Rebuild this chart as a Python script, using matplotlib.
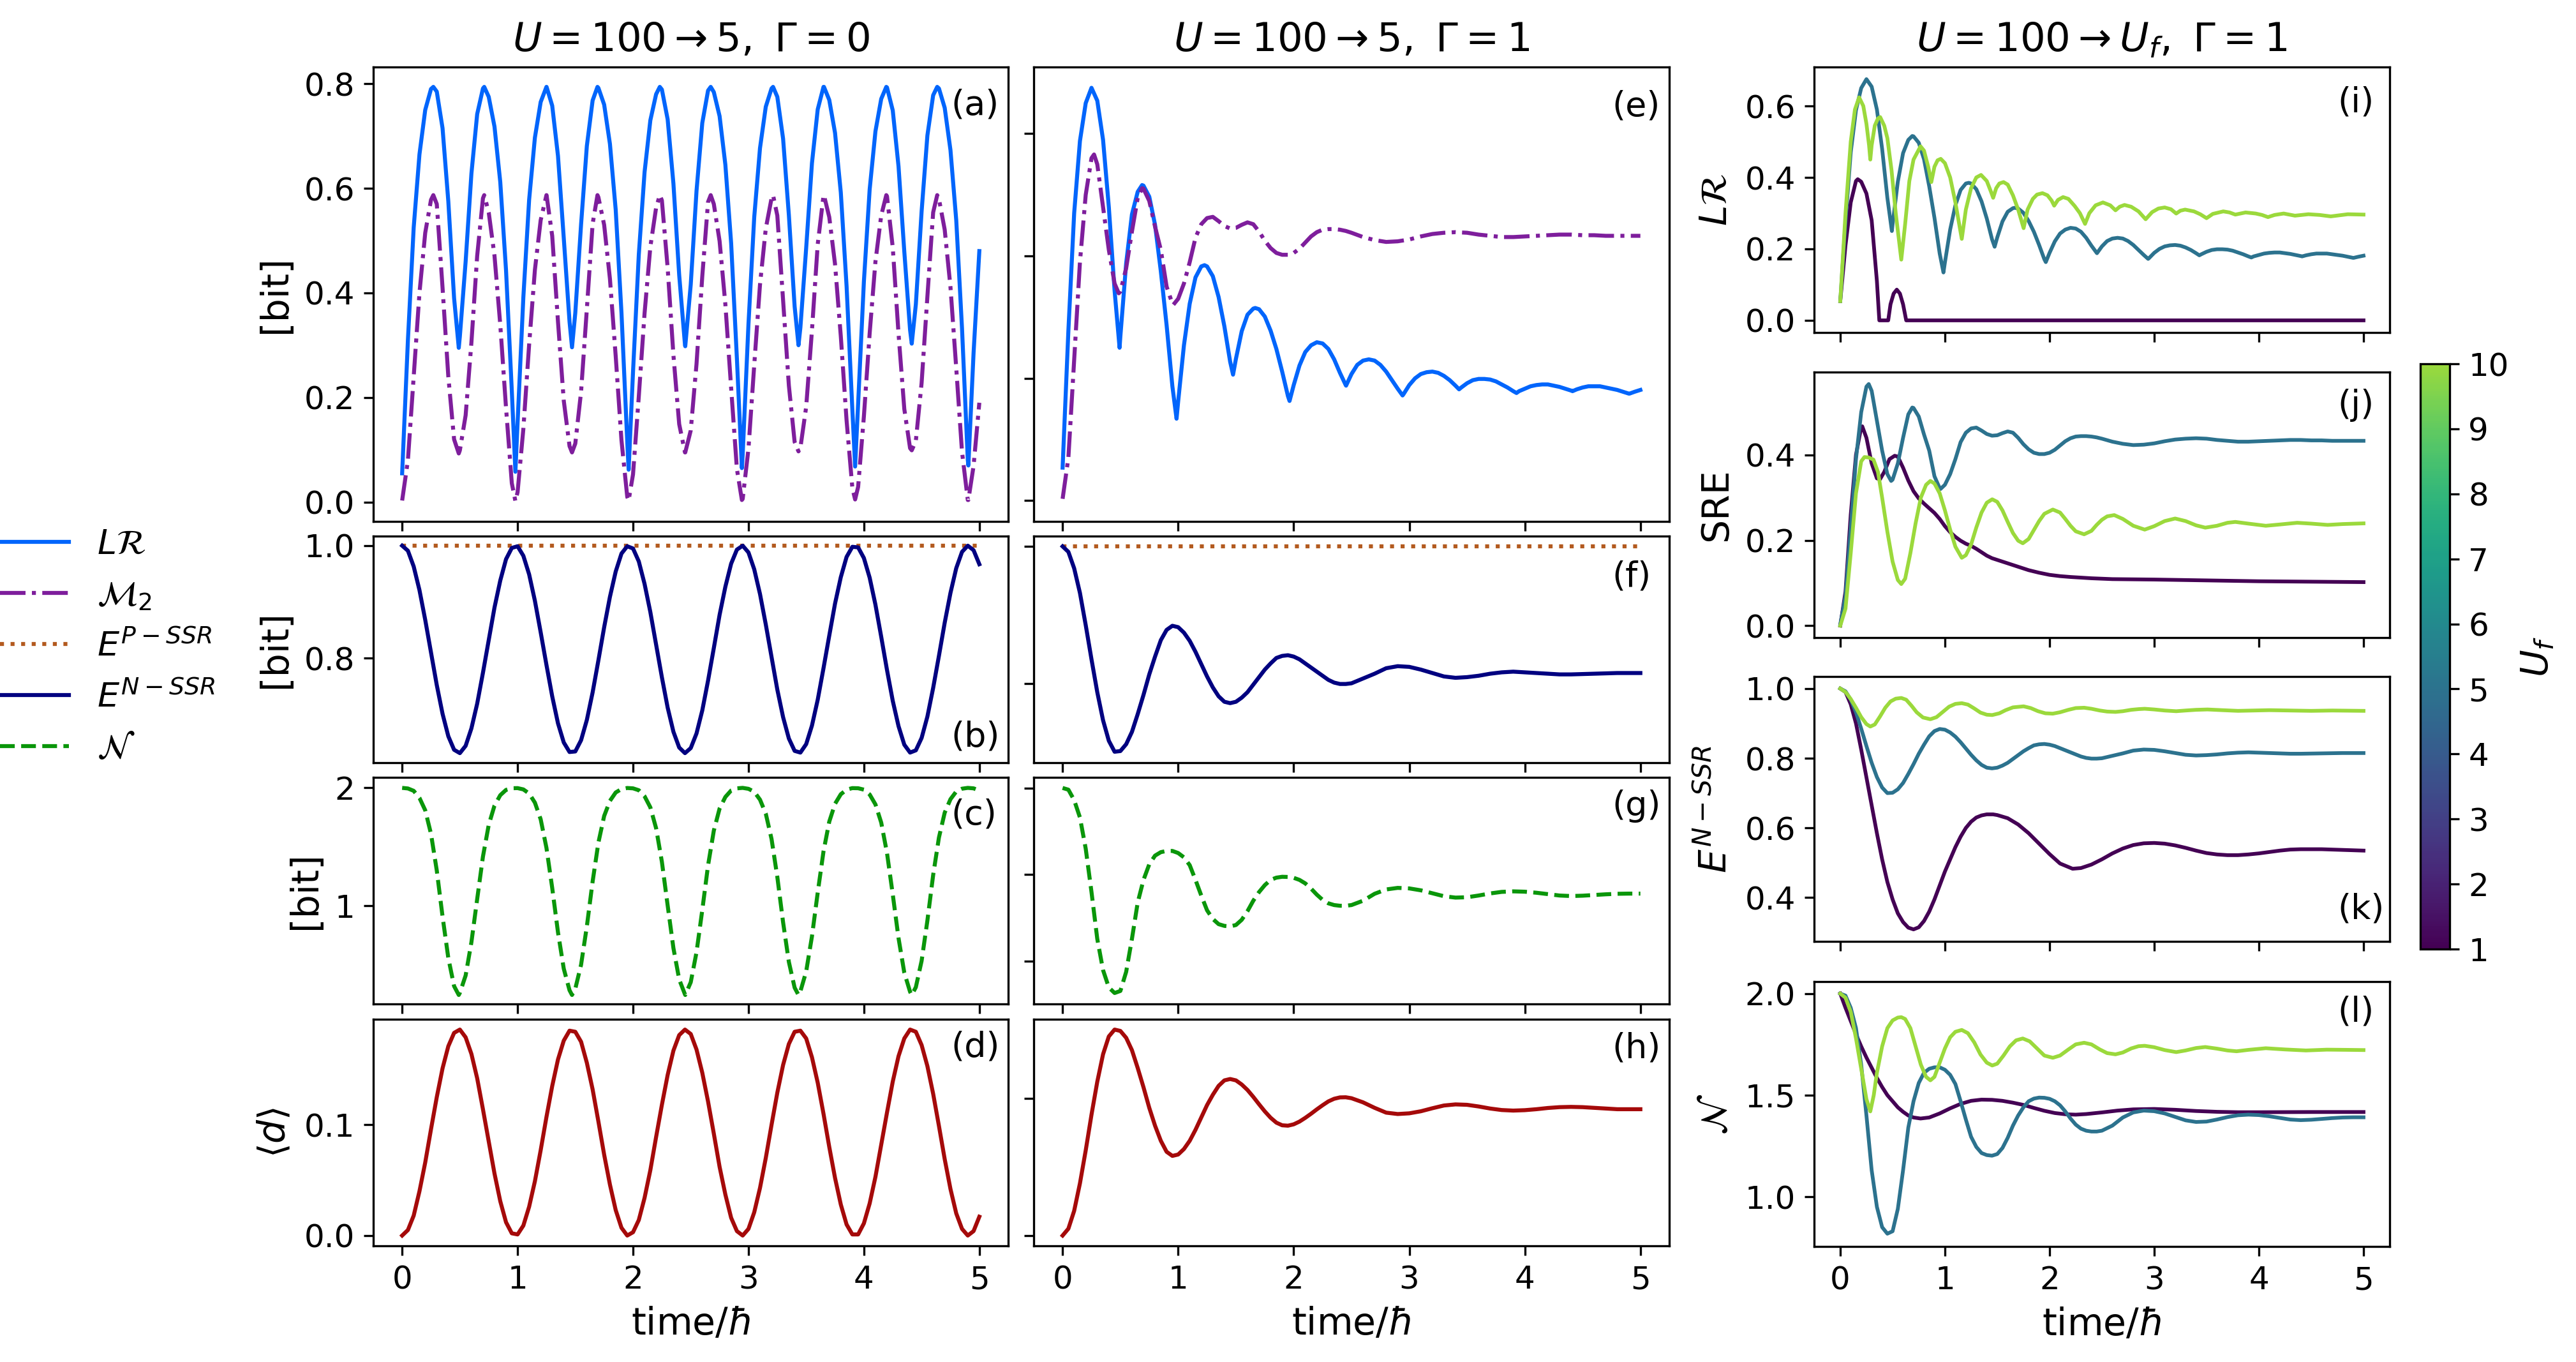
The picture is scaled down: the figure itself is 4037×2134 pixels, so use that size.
import numpy as np
import matplotlib
matplotlib.use('Agg')
import matplotlib.pyplot as plt
from matplotlib.colors import ListedColormap, Normalize
from matplotlib.cm import ScalarMappable

plt.rcParams['font.family'] = ['DejaVu Sans']
plt.rcParams['mathtext.fontset'] = 'dejavusans'

W, H, DPI = 4037, 2134, 300

# ---------------- sampling grids ----------------
time_fine = np.round(np.arange(0, 101) * 0.05, 3)                     # 0 .. 5 step 0.05
time_mid = np.concatenate([np.round(np.arange(0, 50) * 0.05, 3),
                           np.round(2.5 + np.arange(0, 26) * 0.1, 3)])  # 0..2.45 by 0.05, 2.5..5 by 0.1

# ---------------- column 1 : U=100->5, Gamma=0 ----------------
lr_g0 = [0.055, 0.31, 0.525, 0.665, 0.75, 0.79, 0.785, 0.715, 0.575, 0.39,
         0.317, 0.460, 0.628, 0.742, 0.791, 0.775, 0.718, 0.612, 0.443, 0.213,
         0.152, 0.392, 0.578, 0.697, 0.765, 0.794, 0.758, 0.662, 0.505, 0.345,
         0.362, 0.531, 0.681, 0.768, 0.792, 0.760, 0.685, 0.559, 0.362, 0.116,
         0.249, 0.473, 0.631, 0.730, 0.780, 0.789, 0.732, 0.609, 0.434, 0.301,
         0.416, 0.595, 0.725, 0.787, 0.784, 0.738, 0.645, 0.495, 0.274, 0.091,
         0.340, 0.545, 0.677, 0.756, 0.791, 0.775, 0.695, 0.549, 0.374, 0.334,
         0.486, 0.648, 0.751, 0.794, 0.769, 0.706, 0.592, 0.413, 0.177, 0.188,
         0.422, 0.598, 0.709, 0.771, 0.793, 0.749, 0.642, 0.479, 0.329, 0.378,
         0.556, 0.701, 0.778, 0.791, 0.754, 0.673, 0.539, 0.332, 0.081, 0.285,
         0.48]
lr_g0_extrema = [(0.27, 0.794), (0.4905, 0.295), (0.711, 0.794), (0.981, 0.058),
                 (1.251, 0.794), (1.4715, 0.296), (1.692, 0.794), (1.962, 0.062),
                 (2.232, 0.794), (2.4525, 0.298), (2.673, 0.794), (2.943, 0.065),
                 (3.213, 0.794), (3.4335, 0.300), (3.654, 0.794), (3.924, 0.068),
                 (4.194, 0.794), (4.4145, 0.303), (4.635, 0.794), (4.905, 0.070)]
m2_g0 = [0.003, 0.080, 0.240, 0.400, 0.515, 0.578, 0.570, 0.410, 0.240, 0.120,
         0.099, 0.166, 0.305, 0.471, 0.581, 0.554, 0.471, 0.339, 0.180, 0.036,
         0.019, 0.140, 0.301, 0.444, 0.539, 0.587, 0.509, 0.345, 0.194, 0.107,
         0.112, 0.211, 0.369, 0.532, 0.583, 0.530, 0.427, 0.279, 0.118, 0.010,
         0.053, 0.202, 0.361, 0.488, 0.563, 0.577, 0.448, 0.281, 0.149, 0.095,
         0.137, 0.264, 0.432, 0.574, 0.570, 0.499, 0.378, 0.218, 0.063, 0.006,
         0.102, 0.262, 0.416, 0.523, 0.581, 0.548, 0.386, 0.223, 0.115, 0.104,
         0.182, 0.328, 0.493, 0.586, 0.545, 0.455, 0.317, 0.156, 0.027, 0.029,
         0.164, 0.323, 0.460, 0.548, 0.585, 0.487, 0.322, 0.178, 0.103, 0.117,
         0.228, 0.393, 0.554, 0.580, 0.521, 0.411, 0.256, 0.096, 0.004, 0.069,
         0.19]
m2_g0_extrema = [(0.27, 0.587), (0.4905, 0.093), (0.711, 0.587), (0.981, 0.002),
                 (1.251, 0.587), (1.4715, 0.095), (1.692, 0.587), (1.962, 0.003),
                 (2.232, 0.587), (2.4525, 0.095), (2.673, 0.587), (2.943, 0.004),
                 (3.213, 0.587), (3.4335, 0.097), (3.654, 0.587), (3.924, 0.005),
                 (4.194, 0.587), (4.4145, 0.099), (4.635, 0.587), (4.905, 0.004)]
ep_time = [0.0, 5.0]
ep_vals = [1.0, 1.0]
en_g0 = [1.000, 0.991, 0.963, 0.921, 0.868, 0.810, 0.752, 0.701, 0.661, 0.637,
         0.631, 0.644, 0.675, 0.719, 0.774, 0.832, 0.890, 0.938, 0.976, 0.996,
         0.999, 0.982, 0.949, 0.902, 0.846, 0.788, 0.732, 0.684, 0.650, 0.633,
         0.634, 0.654, 0.690, 0.739, 0.796, 0.855, 0.909, 0.954, 0.986, 0.999,
         0.995, 0.972, 0.932, 0.882, 0.824, 0.766, 0.712, 0.669, 0.641, 0.631,
         0.640, 0.666, 0.707, 0.760, 0.818, 0.877, 0.927, 0.968, 0.993, 1.000,
         0.988, 0.958, 0.914, 0.860, 0.802, 0.744, 0.695, 0.657, 0.635, 0.632,
         0.647, 0.680, 0.726, 0.782, 0.840, 0.897, 0.944, 0.980, 0.998, 0.997,
         0.978, 0.943, 0.895, 0.838, 0.779, 0.724, 0.679, 0.646, 0.632, 0.636,
         0.658, 0.696, 0.747, 0.804, 0.863, 0.916, 0.960, 0.989, 1.000, 0.992,
         0.967]
nn_g0 = [2.000, 1.995, 1.975, 1.915, 1.810, 1.610, 1.300, 0.910, 0.558, 0.320,
         0.263, 0.410, 0.692, 1.058, 1.418, 1.686, 1.850, 1.938, 1.983, 1.997,
         1.998, 1.987, 1.952, 1.875, 1.734, 1.492, 1.152, 0.776, 0.468, 0.285,
         0.298, 0.501, 0.826, 1.206, 1.536, 1.762, 1.890, 1.961, 1.990, 1.999,
         1.996, 1.980, 1.929, 1.835, 1.658, 1.374, 1.004, 0.642, 0.377, 0.250,
         0.353, 0.607, 0.965, 1.343, 1.638, 1.825, 1.923, 1.978, 1.996, 2.000,
         1.992, 1.967, 1.900, 1.782, 1.567, 1.245, 0.861, 0.525, 0.307, 0.276,
         0.444, 0.741, 1.113, 1.461, 1.714, 1.865, 1.946, 1.985, 1.998, 1.997,
         1.985, 1.944, 1.860, 1.706, 1.449, 1.097, 0.727, 0.434, 0.272, 0.311,
         0.534, 0.875, 1.261, 1.579, 1.790, 1.904, 1.969, 1.993, 2.000, 1.996,
         1.977]
nn_g0_minima = [(0.4905, 0.245), (1.4715, 0.245), (2.4525, 0.245), (3.4335, 0.245), (4.4145, 0.245)]
dd_g0 = [0.000, 0.005, 0.018, 0.040, 0.066, 0.096, 0.125, 0.151, 0.171, 0.183,
         0.186, 0.179, 0.164, 0.142, 0.114, 0.085, 0.056, 0.031, 0.012, 0.002,
         0.001, 0.009, 0.026, 0.049, 0.077, 0.107, 0.135, 0.159, 0.176, 0.185,
         0.184, 0.175, 0.156, 0.132, 0.103, 0.073, 0.046, 0.023, 0.007, 0.000,
         0.003, 0.014, 0.034, 0.059, 0.089, 0.118, 0.145, 0.167, 0.181, 0.186,
         0.182, 0.168, 0.147, 0.121, 0.092, 0.062, 0.037, 0.016, 0.004, 0.000,
         0.006, 0.021, 0.043, 0.070, 0.100, 0.129, 0.154, 0.173, 0.184, 0.185,
         0.178, 0.161, 0.138, 0.110, 0.080, 0.052, 0.028, 0.010, 0.001, 0.001,
         0.011, 0.029, 0.053, 0.082, 0.111, 0.139, 0.162, 0.178, 0.186, 0.184,
         0.172, 0.153, 0.128, 0.099, 0.069, 0.042, 0.020, 0.006, 0.000, 0.004,
         0.017]

# ---------------- column 2 : U=100->5, Gamma=1 (also U_f=5 in column 3) ----------------
lr_g1 = [0.054, 0.278, 0.47, 0.588, 0.65, 0.675, 0.654, 0.59, 0.48, 0.343,
         0.269, 0.388, 0.468, 0.505, 0.515, 0.497, 0.451, 0.375, 0.287, 0.187,
         0.162, 0.254, 0.322, 0.365, 0.383, 0.383, 0.367, 0.333, 0.285, 0.227,
         0.232, 0.277, 0.304, 0.314, 0.313, 0.301, 0.278, 0.248, 0.211, 0.171,
         0.189, 0.221, 0.243, 0.254, 0.259, 0.257, 0.248, 0.231, 0.209, 0.189,
         0.207, 0.222, 0.229, 0.231, 0.229, 0.222, 0.211, 0.197, 0.183, 0.174,
         0.189, 0.200, 0.207, 0.210, 0.211, 0.209, 0.204, 0.197, 0.188, 0.185,
         0.192, 0.197, 0.199, 0.199, 0.198, 0.195, 0.190, 0.185, 0.179, 0.179,
         0.183, 0.187, 0.189, 0.190, 0.190, 0.188, 0.186, 0.183, 0.180, 0.182,
         0.185, 0.187, 0.187, 0.187, 0.185, 0.183, 0.181, 0.178, 0.175, 0.178,
         0.181]
lr_g1_extrema = [(0.493, 0.250), (0.688, 0.516), (0.986, 0.134), (1.228, 0.385), (1.475, 0.206),
                 (1.667, 0.315), (1.964, 0.163), (2.453, 0.188), (2.942, 0.172), (3.431, 0.182),
                 (3.928, 0.176), (4.413, 0.179), (4.906, 0.175)]
m2_g1 = [0.003, 0.07, 0.23, 0.39, 0.50, 0.56, 0.55, 0.48, 0.41, 0.355,
         0.342, 0.38, 0.44, 0.495, 0.51, 0.49, 0.448, 0.41, 0.35, 0.322,
         0.33, 0.355, 0.39, 0.43, 0.452, 0.462, 0.464, 0.457, 0.449, 0.445,
         0.446, 0.451, 0.455, 0.452, 0.44, 0.425, 0.413, 0.405, 0.402, 0.402,
         0.405, 0.412, 0.422, 0.432, 0.439, 0.443, 0.444, 0.444, 0.443, 0.441,
         0.438, 0.431, 0.426, 0.423, 0.424, 0.427, 0.432, 0.436, 0.438, 0.439,
         0.438, 0.435, 0.433, 0.431, 0.431, 0.432, 0.433, 0.434, 0.435, 0.435,
         0.434, 0.434, 0.433, 0.433, 0.433, 0.433]
m2_g1_extrema = [(0.272, 0.566), (0.486, 0.339), (0.688, 0.511), (0.957, 0.320)]
en_g1 = [1.0, 0.992, 0.968, 0.932, 0.885, 0.835, 0.787, 0.746, 0.716, 0.700,
         0.701, 0.711, 0.729, 0.755, 0.783, 0.813, 0.839, 0.863, 0.878, 0.884,
         0.882, 0.874, 0.862, 0.846, 0.828, 0.810, 0.794, 0.781, 0.773, 0.771,
         0.773, 0.779, 0.787, 0.798, 0.809, 0.820, 0.829, 0.837, 0.840, 0.841,
         0.839, 0.835, 0.829, 0.823, 0.817, 0.811, 0.805, 0.801, 0.799, 0.799,
         0.800, 0.807, 0.814, 0.822, 0.825, 0.824, 0.820, 0.815, 0.810, 0.808,
         0.809, 0.811, 0.814, 0.816, 0.817, 0.816, 0.815, 0.814, 0.813, 0.813,
         0.8135, 0.814, 0.8145, 0.815, 0.815, 0.815]
nn_g1 = [2.0, 1.99, 1.93, 1.83, 1.65, 1.40, 1.13, 0.95, 0.85, 0.818,
         0.83, 0.94, 1.13, 1.34, 1.47, 1.56, 1.61, 1.63, 1.637, 1.637,
         1.625, 1.60, 1.555, 1.47, 1.38, 1.295, 1.245, 1.215, 1.205, 1.202,
         1.21, 1.24, 1.29, 1.35, 1.40, 1.44, 1.47, 1.483, 1.488, 1.487,
         1.482, 1.47, 1.45, 1.42, 1.385, 1.355, 1.335, 1.325, 1.321, 1.321,
         1.325, 1.35, 1.39, 1.415, 1.424, 1.421, 1.41, 1.393, 1.376, 1.368,
         1.370, 1.38, 1.392, 1.401, 1.404, 1.402, 1.396, 1.388, 1.38, 1.377,
         1.379, 1.383, 1.387, 1.39, 1.391, 1.391]
dd_g1 = [0.0, 0.005, 0.018, 0.038, 0.062, 0.088, 0.112, 0.132, 0.145, 0.150,
         0.149, 0.144, 0.135, 0.122, 0.108, 0.093, 0.080, 0.069, 0.061, 0.058,
         0.059, 0.063, 0.069, 0.077, 0.086, 0.095, 0.1025, 0.109, 0.113, 0.114,
         0.113, 0.110, 0.106, 0.101, 0.0956, 0.0904, 0.0858, 0.0822, 0.0803, 0.080,
         0.081, 0.083, 0.0857, 0.0887, 0.0919, 0.0949, 0.0977, 0.0996, 0.1006, 0.1007,
         0.100, 0.097, 0.093, 0.0895, 0.0885, 0.089, 0.0905, 0.0927, 0.0947, 0.0955,
         0.0952, 0.094, 0.0925, 0.0914, 0.091, 0.0913, 0.092, 0.0929, 0.0935, 0.0937,
         0.0935, 0.093, 0.0925, 0.092, 0.092, 0.092]

# ---------------- column 3 : U=100->U_f, Gamma=1 ----------------
uf_values = [1, 5, 10]
lr_uf1 = [(0, 0.054), (0.05, 0.21), (0.10, 0.33), (0.15, 0.39), (0.167, 0.395), (0.20, 0.388),
          (0.25, 0.355), (0.30, 0.28), (0.35, 0.11), (0.373, 0.0), (0.458, 0.0), (0.48, 0.045),
          (0.51, 0.075), (0.54, 0.086), (0.57, 0.075), (0.60, 0.045), (0.63, 0.0), (5.0, 0.0)]
lr_uf10 = [(0, 0.054), (0.05, 0.30), (0.10, 0.50), (0.14, 0.59), (0.18, 0.624), (0.22, 0.60),
           (0.25, 0.55), (0.275, 0.49), (0.287, 0.45), (0.30, 0.49), (0.33, 0.545), (0.36, 0.565),
           (0.381, 0.569), (0.42, 0.545), (0.45, 0.51), (0.49, 0.42), (0.53, 0.30), (0.583, 0.17),
           (0.62, 0.27), (0.66, 0.39), (0.70, 0.45), (0.767, 0.487), (0.80, 0.475), (0.84, 0.43),
           (0.87, 0.387), (0.90, 0.43), (0.93, 0.448), (0.96, 0.452), (1.00, 0.44), (1.05, 0.40),
           (1.10, 0.33), (1.161, 0.228), (1.20, 0.31), (1.25, 0.37), (1.30, 0.40), (1.345, 0.407),
           (1.40, 0.39), (1.44, 0.36), (1.461, 0.343), (1.49, 0.37), (1.52, 0.383), (1.56, 0.387),
           (1.60, 0.38), (1.65, 0.35), (1.70, 0.31), (1.752, 0.258), (1.79, 0.31), (1.84, 0.34),
           (1.88, 0.352), (1.932, 0.356), (1.98, 0.35), (2.02, 0.335), (2.044, 0.321), (2.08, 0.337),
           (2.129, 0.345), (2.18, 0.34), (2.24, 0.32), (2.29, 0.30), (2.339, 0.270), (2.38, 0.30),
           (2.44, 0.322), (2.51, 0.330), (2.58, 0.322), (2.63, 0.308), (2.67, 0.318), (2.716, 0.323),
           (2.78, 0.318), (2.85, 0.305), (2.918, 0.283), (2.98, 0.303), (3.04, 0.313), (3.10, 0.316),
           (3.16, 0.311), (3.21, 0.299), (3.25, 0.307), (3.295, 0.310), (3.38, 0.305), (3.44, 0.297),
           (3.50, 0.286), (3.56, 0.298), (3.66, 0.305), (3.72, 0.302), (3.775, 0.296), (3.873, 0.302),
           (3.97, 0.299), (4.03, 0.295), (4.087, 0.289), (4.15, 0.295), (4.237, 0.299), (4.345, 0.293),
           (4.473, 0.297), (4.58, 0.295), (4.687, 0.291), (4.85, 0.297), (5.0, 0.296)]
sre_uf1 = [(0, 0.0), (0.05, 0.08), (0.10, 0.26), (0.15, 0.40), (0.20, 0.465), (0.21, 0.467),
           (0.25, 0.44), (0.30, 0.38), (0.35, 0.345), (0.38, 0.343), (0.42, 0.36), (0.47, 0.39),
           (0.52, 0.398), (0.55, 0.396), (0.60, 0.37), (0.65, 0.34), (0.70, 0.315), (0.75, 0.298),
           (0.80, 0.286), (0.85, 0.275), (0.90, 0.264), (0.95, 0.25), (1.00, 0.233), (1.05, 0.219),
           (1.10, 0.208), (1.15, 0.199), (1.20, 0.192), (1.25, 0.187), (1.30, 0.18), (1.35, 0.172),
           (1.40, 0.164), (1.45, 0.158), (1.50, 0.154), (1.60, 0.146), (1.70, 0.138), (1.80, 0.13),
           (1.90, 0.124), (2.00, 0.119), (2.10, 0.116), (2.20, 0.114), (2.40, 0.111), (2.60, 0.109),
           (3.00, 0.108), (3.50, 0.106), (4.00, 0.104), (4.50, 0.103), (5.00, 0.102)]
sre_uf10 = [(0, 0.0), (0.05, 0.04), (0.10, 0.17), (0.15, 0.31), (0.20, 0.385), (0.231, 0.395),
            (0.27, 0.394), (0.317, 0.389), (0.36, 0.36), (0.40, 0.30), (0.45, 0.22), (0.50, 0.15),
            (0.55, 0.107), (0.583, 0.0975), (0.62, 0.11), (0.67, 0.17), (0.72, 0.24), (0.77, 0.30),
            (0.82, 0.33), (0.861, 0.339), (0.90, 0.333), (0.95, 0.31), (1.00, 0.27), (1.05, 0.225),
            (1.10, 0.185), (1.161, 0.159), (1.20, 0.165), (1.25, 0.19), (1.30, 0.23), (1.35, 0.265),
            (1.40, 0.288), (1.452, 0.296), (1.50, 0.29), (1.55, 0.27), (1.60, 0.243), (1.65, 0.217),
            (1.70, 0.199), (1.744, 0.193), (1.80, 0.203), (1.85, 0.224), (1.90, 0.245), (1.95, 0.262),
            (2.031, 0.272), (2.10, 0.265), (2.15, 0.25), (2.20, 0.234), (2.25, 0.221), (2.33, 0.214),
            (2.40, 0.222), (2.45, 0.236), (2.50, 0.248), (2.55, 0.256), (2.618, 0.259), (2.70, 0.25),
            (2.80, 0.234), (2.909, 0.225), (3.00, 0.233), (3.10, 0.245), (3.20, 0.251), (3.30, 0.245),
            (3.40, 0.235), (3.488, 0.2296), (3.60, 0.234), (3.70, 0.241), (3.775, 0.243), (3.90, 0.239),
            (4.066, 0.234), (4.20, 0.237), (4.366, 0.241), (4.50, 0.239), (4.657, 0.236), (4.80, 0.238),
            (5.00, 0.2396)]
en_uf1 = [(0, 1.0), (0.05, 0.99), (0.10, 0.955), (0.15, 0.90), (0.20, 0.825), (0.25, 0.745),
          (0.30, 0.665), (0.35, 0.585), (0.40, 0.51), (0.45, 0.445), (0.50, 0.395), (0.55, 0.355),
          (0.60, 0.33), (0.65, 0.314), (0.70, 0.309), (0.75, 0.315), (0.80, 0.333), (0.85, 0.36),
          (0.90, 0.395), (0.95, 0.435), (1.00, 0.475), (1.05, 0.51), (1.10, 0.545), (1.15, 0.575),
          (1.20, 0.60), (1.25, 0.618), (1.30, 0.63), (1.35, 0.636), (1.40, 0.639), (1.46, 0.639),
          (1.50, 0.637), (1.60, 0.628), (1.70, 0.61), (1.80, 0.585), (1.90, 0.555), (2.00, 0.525),
          (2.10, 0.498), (2.22, 0.483), (2.30, 0.485), (2.40, 0.495), (2.50, 0.51), (2.60, 0.527),
          (2.70, 0.541), (2.80, 0.551), (2.90, 0.556), (3.00, 0.557), (3.10, 0.555), (3.20, 0.55),
          (3.30, 0.543), (3.40, 0.535), (3.50, 0.528), (3.60, 0.524), (3.70, 0.522), (3.80, 0.522),
          (3.90, 0.524), (4.00, 0.527), (4.10, 0.531), (4.20, 0.535), (4.30, 0.538), (4.40, 0.539),
          (4.50, 0.539), (4.60, 0.539), (4.70, 0.538), (4.80, 0.537), (4.90, 0.536), (5.00, 0.535)]
en_uf10 = [(0, 1.0), (0.05, 0.99), (0.10, 0.97), (0.15, 0.945), (0.20, 0.918), (0.25, 0.898),
           (0.287, 0.891), (0.33, 0.897), (0.38, 0.92), (0.43, 0.945), (0.48, 0.963), (0.53, 0.971),
           (0.583, 0.973), (0.63, 0.968), (0.68, 0.951), (0.73, 0.932), (0.79, 0.917), (0.861, 0.912),
           (0.92, 0.918), (0.98, 0.933), (1.04, 0.948), (1.10, 0.956), (1.161, 0.958), (1.22, 0.954),
           (1.28, 0.943), (1.34, 0.931), (1.40, 0.925), (1.452, 0.924), (1.52, 0.929), (1.58, 0.938),
           (1.65, 0.946), (1.752, 0.949), (1.82, 0.944), (1.89, 0.935), (1.96, 0.929), (2.031, 0.928),
           (2.10, 0.932), (2.18, 0.939), (2.25, 0.944), (2.33, 0.945), (2.40, 0.942), (2.48, 0.937),
           (2.55, 0.934), (2.63, 0.933), (2.70, 0.935), (2.78, 0.939), (2.85, 0.941), (2.909, 0.942),
           (3.00, 0.940), (3.10, 0.937), (3.21, 0.935), (3.30, 0.937), (3.40, 0.939), (3.509, 0.940),
           (3.65, 0.938), (3.80, 0.936), (3.95, 0.937), (4.10, 0.938), (4.30, 0.937), (4.50, 0.936),
           (4.70, 0.937), (5.0, 0.936)]
nn_uf1 = [(0, 2.0), (0.05, 1.93), (0.10, 1.865), (0.15, 1.80), (0.20, 1.74), (0.25, 1.685),
          (0.30, 1.635), (0.35, 1.585), (0.40, 1.54), (0.45, 1.50), (0.50, 1.47), (0.55, 1.44),
          (0.60, 1.418), (0.65, 1.40), (0.70, 1.39), (0.767, 1.385), (0.85, 1.39), (0.95, 1.41),
          (1.05, 1.435), (1.15, 1.457), (1.25, 1.472), (1.35, 1.478), (1.45, 1.477), (1.55, 1.472),
          (1.65, 1.463), (1.75, 1.452), (1.85, 1.437), (1.95, 1.423), (2.05, 1.412), (2.15, 1.406),
          (2.25, 1.404), (2.35, 1.407), (2.50, 1.415), (2.65, 1.424), (2.80, 1.43), (3.00, 1.432),
          (3.20, 1.428), (3.40, 1.422), (3.60, 1.418), (3.80, 1.416), (4.00, 1.416), (4.50, 1.417),
          (5.00, 1.417)]
nn_uf10 = [(0, 2.0), (0.05, 1.98), (0.10, 1.91), (0.15, 1.78), (0.20, 1.63), (0.25, 1.48),
           (0.287, 1.42), (0.32, 1.50), (0.35, 1.61), (0.40, 1.74), (0.45, 1.83), (0.50, 1.868),
           (0.55, 1.882), (0.583, 1.884), (0.62, 1.875), (0.67, 1.83), (0.72, 1.74), (0.77, 1.65),
           (0.82, 1.59), (0.861, 1.573), (0.90, 1.59), (0.95, 1.66), (1.00, 1.73), (1.05, 1.785),
           (1.10, 1.812), (1.161, 1.821), (1.22, 1.805), (1.28, 1.76), (1.34, 1.70), (1.40, 1.66),
           (1.452, 1.646), (1.50, 1.655), (1.56, 1.695), (1.62, 1.74), (1.68, 1.77), (1.744, 1.779),
           (1.81, 1.765), (1.88, 1.73), (1.95, 1.695), (2.031, 1.684), (2.10, 1.695), (2.18, 1.725),
           (2.25, 1.75), (2.33, 1.758), (2.40, 1.75), (2.48, 1.725), (2.55, 1.707), (2.63, 1.701),
           (2.70, 1.71), (2.78, 1.73), (2.85, 1.741), (2.909, 1.743), (3.00, 1.736), (3.10, 1.722),
           (3.21, 1.712), (3.30, 1.72), (3.40, 1.732), (3.488, 1.737), (3.60, 1.729), (3.70, 1.72),
           (3.787, 1.716), (3.90, 1.723), (4.066, 1.731), (4.25, 1.725), (4.45, 1.72), (4.65, 1.724),
           (4.85, 1.723), (5.0, 1.722)]

# ---------------- text ----------------
col_titles = [r'$U = 100 \rightarrow 5,\ \Gamma = 0$',
              r'$U = 100 \rightarrow 5,\ \Gamma = 1$',
              r'$U = 100 \rightarrow U_f,\ \Gamma = 1$']
legend_labels = [r'$L\mathcal{R}$', r'$\mathcal{M}_2$', r'$E^{P-SSR}$', r'$E^{N-SSR}$', r'$\mathcal{N}$']
x_ticks = [0, 1, 2, 3, 4, 5]

# ---------------- styles ----------------
C_LR, C_M2, C_EP, C_EN, C_N, C_D = '#0165fc', '#7e1e9c', '#b35a1f', '#000080', '#0a960a', '#a50a0a'
cmap = ListedColormap(plt.cm.viridis(np.linspace(0, 0.85, 256)))
norm = Normalize(1, 10)


def merged(t, v, extra):
    tt = np.concatenate([np.asarray(t, float), [p[0] for p in extra]])
    vv = np.concatenate([np.asarray(v, float), [p[1] for p in extra]])
    o = np.argsort(tt, kind='stable')
    return tt[o], vv[o]


def unzip(pairs):
    return [p[0] for p in pairs], [p[1] for p in pairs]


fig = plt.figure(figsize=(W / DPI, H / DPI), dpi=DPI)


def add_ax(x0, x1, y0, y1):
    return fig.add_axes([x0 / W, 1 - y1 / H, (x1 - x0) / W, (y1 - y0) / H])


colx = [(585, 1580), (1620, 2616), (2843, 3745)]
rows_lm = [(105, 817), (840, 1195), (1218, 1573), (1597, 1952)]
rows_r = [(105, 521), (583, 999), (1060, 1475), (1538, 1953)]

axL = [add_ax(*colx[0], *r) for r in rows_lm]
axM = [add_ax(*colx[1], *r) for r in rows_lm]
axR = [add_ax(*colx[2], *r) for r in rows_r]

lw = 1.5
# column 1
t, v = merged(time_fine, lr_g0, lr_g0_extrema)
h_lr, = axL[0].plot(t, v, color=C_LR, lw=lw)
t, v = merged(time_fine, m2_g0, m2_g0_extrema)
h_m2, = axL[0].plot(t, v, color=C_M2, lw=lw, ls='-.')
h_ep, = axL[1].plot(ep_time, ep_vals, color=C_EP, lw=lw, ls=':')
h_en, = axL[1].plot(time_fine, en_g0, color=C_EN, lw=lw)
t, v = merged(time_fine, nn_g0, nn_g0_minima)
h_nn, = axL[2].plot(t, v, color=C_N, lw=lw, ls='--')
axL[3].plot(time_fine, dd_g0, color=C_D, lw=lw)

# column 2
lr5 = merged(time_fine, lr_g1, lr_g1_extrema)
m25 = merged(time_mid, m2_g1, m2_g1_extrema)
axM[0].plot(*lr5, color=C_LR, lw=lw)
axM[0].plot(*m25, color=C_M2, lw=lw, ls='-.')
axM[1].plot(ep_time, ep_vals, color=C_EP, lw=lw, ls=':')
axM[1].plot(time_mid, en_g1, color=C_EN, lw=lw)
axM[2].plot(time_mid, nn_g1, color=C_N, lw=lw, ls='--')
axM[3].plot(time_mid, dd_g1, color=C_D, lw=lw)

# column 3
lw_r = 1.4
uf_series = {
    0: {1: unzip(lr_uf1), 5: lr5, 10: unzip(lr_uf10)},
    1: {1: unzip(sre_uf1), 5: m25, 10: unzip(sre_uf10)},
    2: {1: unzip(en_uf1), 5: (time_mid, en_g1), 10: unzip(en_uf10)},
    3: {1: unzip(nn_uf1), 5: (time_mid, nn_g1), 10: unzip(nn_uf10)},
}
for i, ax in enumerate(axR):
    for uf in uf_values:
        tt, vv = uf_series[i][uf]
        ax.plot(tt, vv, color=cmap(norm(uf)), lw=lw_r)

# axes formatting
ylims_L = [(-0.037, 0.832), (0.614, 1.017), (0.169, 2.089), (-0.0093, 0.1953)]
yticks_L = [[0.0, 0.2, 0.4, 0.6, 0.8], [0.8, 1.0], [1, 2], [0.0, 0.1]]
ylims_M = [(-0.034, 0.709), (0.684, 1.015), (0.755, 2.061), (-0.0075, 0.1575)]
yticks_M = [[0.0, 0.2, 0.4, 0.6], [0.8, 1.0], [1.0, 1.5, 2.0], [0.0, 0.1]]
ylims_R = [(-0.034, 0.709), (-0.028, 0.594), (0.2745, 1.0345), (0.755, 2.059)]
yticks_R = [[0.0, 0.2, 0.4, 0.6], [0.0, 0.2, 0.4], [0.4, 0.6, 0.8, 1.0], [1.0, 1.5, 2.0]]
ylabels_L = ['[bit]', '[bit]', '[bit]', r'$\langle d\rangle$']
ylabels_R = [r'$L\mathcal{R}$', 'SRE', r'$E^{N-SSR}$', r'$\mathcal{N}$']

for axes, lims, ticks in ((axL, ylims_L, yticks_L), (axM, ylims_M, yticks_M), (axR, ylims_R, yticks_R)):
    for k, ax in enumerate(axes):
        ax.set_xlim(-0.25, 5.25)
        ax.set_xticks(x_ticks)
        ax.set_ylim(*lims[k])
        ax.set_yticks(ticks[k])
        ax.tick_params(labelsize=12)
        if k < 3:
            ax.tick_params(labelbottom=False)
        else:
            ax.set_xlabel(r'time/$\hbar$', fontsize=14)
for k, ax in enumerate(axL):
    ax.set_ylabel(ylabels_L[k], fontsize=14)
for ax in axM:
    ax.tick_params(labelleft=False)
for k, ax in enumerate(axR):
    ax.set_ylabel(ylabels_R[k], fontsize=14)

axL[0].set_title(col_titles[0], fontsize=15)
axM[0].set_title(col_titles[1], fontsize=15)
axR[0].set_title(col_titles[2], fontsize=15)

# panel labels
panel_specs = [
    (axL[0], '(a)', 0.953, 'top'), (axL[1], '(b)', 0.04, 'bottom'), (axL[2], '(c)', 0.909, 'top'),
    (axL[3], '(d)', 0.952, 'top'), (axM[0], '(e)', 0.950, 'top'), (axM[1], '(f)', 0.894, 'top'),
    (axM[2], '(g)', 0.947, 'top'), (axM[3], '(h)', 0.945, 'top'), (axR[0], '(i)', 0.930, 'top'),
    (axR[1], '(j)', 0.938, 'top'), (axR[2], '(k)', 0.06, 'bottom'), (axR[3], '(l)', 0.948, 'top'),
]
for ax, lab, yy, va in panel_specs:
    ax.text(0.91, yy, lab, transform=ax.transAxes, ha='left', va=va, fontsize=13)

# legend: one entry per row, evenly pitched like the reference
legend_rows_px = [853, 933, 1013, 1093, 1173]
for h, lab, ypx in zip([h_lr, h_m2, h_ep, h_en, h_nn], legend_labels, legend_rows_px):
    fig.legend([h], [lab], loc='center left', bbox_to_anchor=(0.0, 1 - ypx / H),
               frameon=False, fontsize=13, borderpad=0, borderaxespad=0,
               handletextpad=0.8, handleheight=0.7)

# colorbar
cax = add_ax(3793, 3839, 570, 1487)
cb = fig.colorbar(ScalarMappable(norm=norm, cmap=cmap), cax=cax, ticks=list(range(1, 11)))
cb.set_label(r'$U_f$', fontsize=14)
cax.tick_params(labelsize=12)

fig.savefig('out.png', dpi=DPI)
